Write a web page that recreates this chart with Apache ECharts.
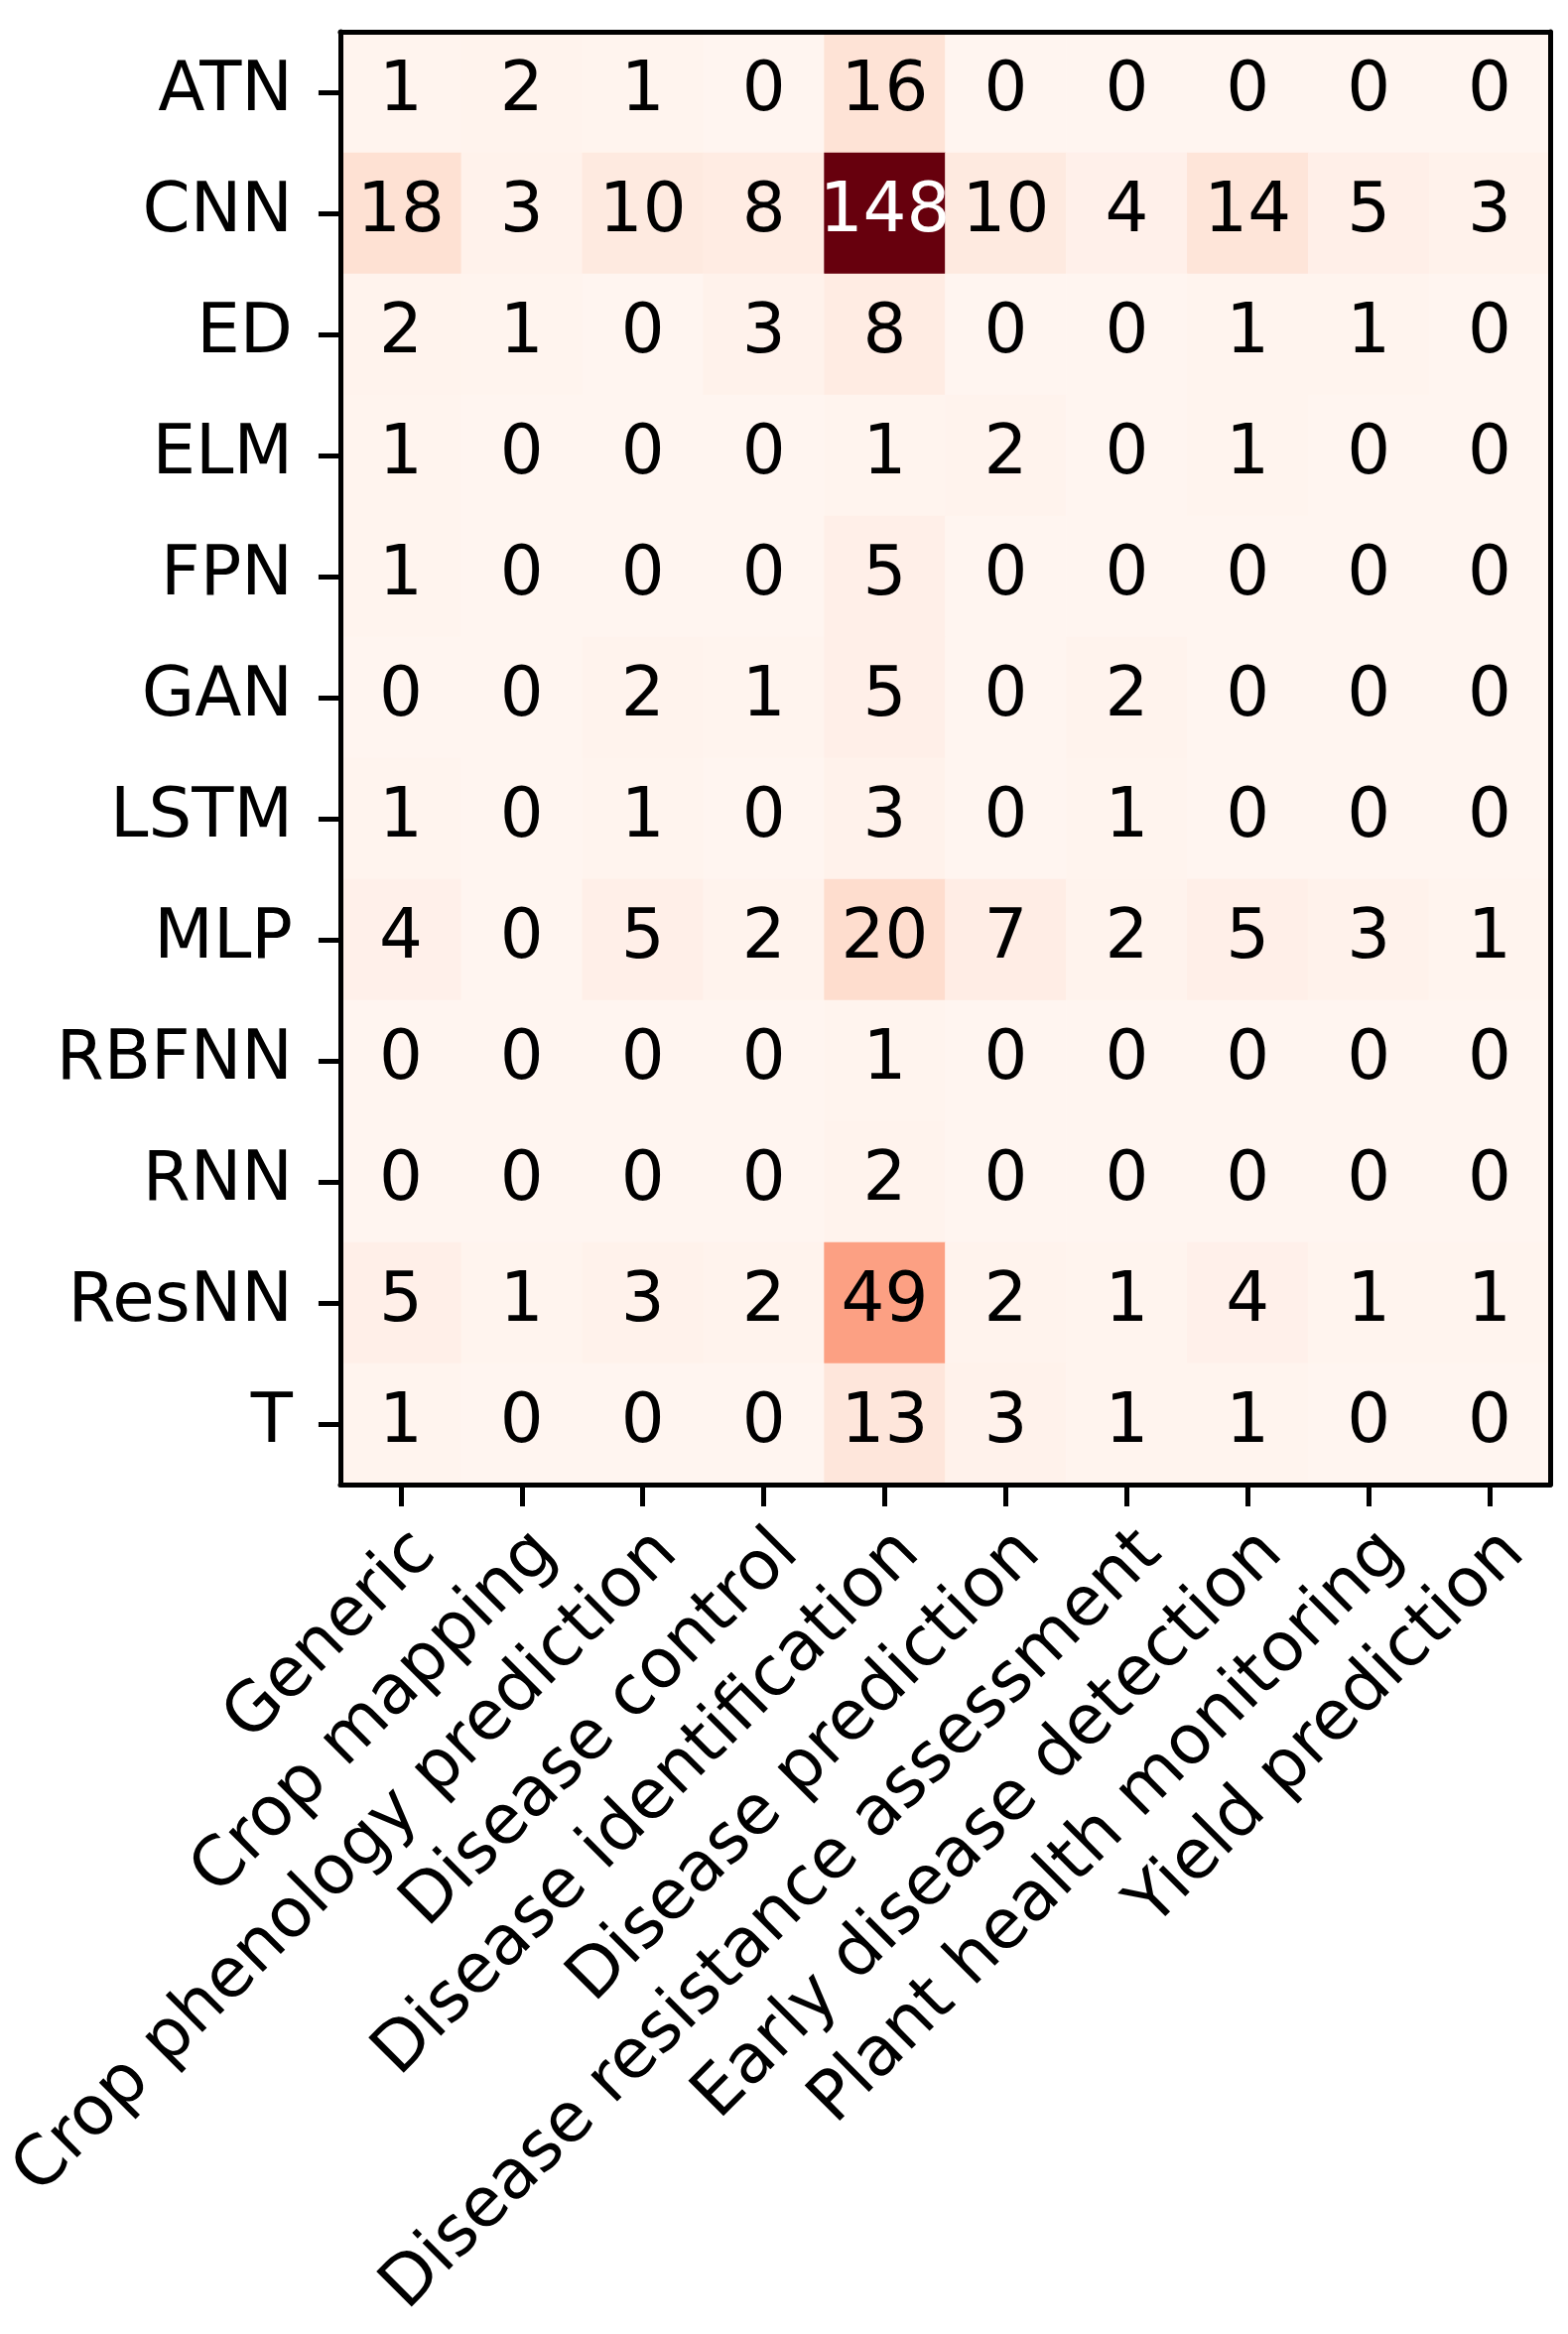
<!DOCTYPE html>
<html>
<head>
<meta charset="utf-8">
<title>Heatmap</title>
<script src="https://cdn.jsdelivr.net/npm/echarts@6/dist/echarts.min.js"></script>
<style>
  html, body { margin: 0; padding: 0; background: #fff; }
  #chart { width: 1580px; height: 2352px; }
</style>
</head>
<body>
<div id="chart"></div>
<script>
// 列：应用类别
var tasks = ['Generic', 'Crop mapping', 'Crop phenology prediction', 'Disease control',
  'Disease identification', 'Disease prediction', 'Disease resistance assessment',
  'Early disease detection', 'Plant health monitoring', 'Yield prediction']
// 行：模型类型
var models = ['ATN', 'CNN', 'ED', 'ELM', 'FPN', 'GAN', 'LSTM', 'MLP', 'RBFNN', 'RNN', 'ResNN', 'T']
// 计数，每行对应一个模型
var counts = [
  [1, 2, 1, 0, 16, 0, 0, 0, 0, 0],
  [18, 3, 10, 8, 148, 10, 4, 14, 5, 3],
  [2, 1, 0, 3, 8, 0, 0, 1, 1, 0],
  [1, 0, 0, 0, 1, 2, 0, 1, 0, 0],
  [1, 0, 0, 0, 5, 0, 0, 0, 0, 0],
  [0, 0, 2, 1, 5, 0, 2, 0, 0, 0],
  [1, 0, 1, 0, 3, 0, 1, 0, 0, 0],
  [4, 0, 5, 2, 20, 7, 2, 5, 3, 1],
  [0, 0, 0, 0, 1, 0, 0, 0, 0, 0],
  [0, 0, 0, 0, 2, 0, 0, 0, 0, 0],
  [5, 1, 3, 2, 49, 2, 1, 4, 1, 1],
  [1, 0, 0, 0, 13, 3, 1, 1, 0, 0]
]
// Reds 调色盘
var reds = ['#fff5f0', '#fee0d2', '#fcbba1', '#fc9272', '#fb6a4a', '#ef3b2c', '#cb181d', '#a50f15', '#67000d']

var maxVal = 0
counts.forEach(function (row) { row.forEach(function (v) { if (v > maxVal) maxVal = v }) })

var cells = []
counts.forEach(function (row, r) {
  row.forEach(function (v, c) {
    cells.push({
      value: [c, r, v],
      label: { color: v > maxVal / 2 ? '#fff' : '#000' }
    })
  })
})

var font = 'DejaVu Sans'
var fs = 69

var hiddenAxis = {
  axisLabel: { show: false },
  axisTick: { show: false },
  splitLine: { show: false },
  axisLine: { show: true, lineStyle: { color: '#000', width: 5 } },
  z: 10
}

var option = {
  backgroundColor: '#fff',
  animation: false,
  grid: { left: 342, top: 32, width: 1220, height: 1464, containLabel: false },
  visualMap: {
    show: false,
    type: 'continuous',
    min: 0,
    max: maxVal,
    dimension: 2,
    inRange: { color: reds }
  },
  xAxis: [
    {
      type: 'category',
      data: tasks,
      position: 'bottom',
      z: 10,
      axisLine: { show: true, lineStyle: { color: '#000', width: 5 } },
      axisTick: { show: true, alignWithLabel: true, length: 22, lineStyle: { color: '#000', width: 5 } },
      axisLabel: {
        interval: 0,
        rotate: 45,
        margin: 34,
        verticalAlign: 'top',
        fontFamily: font,
        fontSize: fs,
        color: '#000'
      },
      splitLine: { show: false }
    },
    Object.assign({ type: 'category', data: tasks, position: 'top' }, hiddenAxis)
  ],
  yAxis: [
    {
      type: 'category',
      data: models,
      inverse: true,
      z: 10,
      axisLine: { show: true, lineStyle: { color: '#000', width: 5 } },
      axisTick: { show: true, alignWithLabel: true, length: 22, lineStyle: { color: '#000', width: 5 } },
      axisLabel: {
        interval: 0,
        margin: 48,
        padding: [12, 0, 0, 0],
        fontFamily: font,
        fontSize: fs,
        color: '#000'
      },
      splitLine: { show: false }
    },
    Object.assign({ type: 'category', data: models, inverse: true, position: 'right' }, hiddenAxis)
  ],
  series: [
    {
      type: 'heatmap',
      xAxisIndex: 0,
      yAxisIndex: 0,
      data: cells,
      label: {
        show: true,
        fontFamily: font,
        fontSize: fs,
        padding: [7, 0, 0, 0],
        formatter: function (p) { return p.value[2] }
      }
    }
  ]
}

var myChart = echarts.init(document.getElementById('chart'))
myChart.setOption(option)
</script>
</body>
</html>
